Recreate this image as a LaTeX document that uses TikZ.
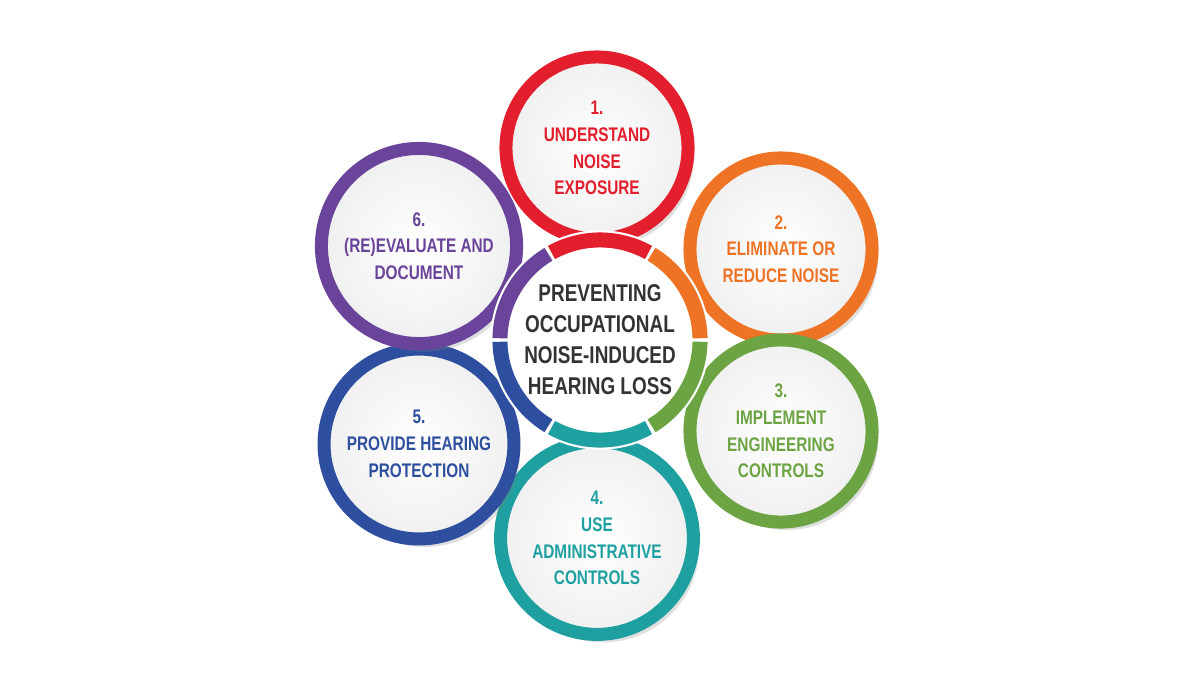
\documentclass[tikz,border=0pt]{standalone}
\usepackage{fontspec}
\setmainfont{Liberation Sans}[FakeStretch=0.78]
\usetikzlibrary{positioning,shadows}
\definecolor{cred}{HTML}{E31E2D}
\definecolor{corange}{HTML}{EE7325}
\definecolor{cgreen}{HTML}{6DA443}
\definecolor{cteal}{HTML}{1FA0A0}
\definecolor{cblue}{HTML}{2E4F9F}
\definecolor{cpurple}{HTML}{6A449A}
\definecolor{ctext}{HTML}{333333}
\begin{document}
\begin{tikzpicture}[x=0.01cm,y=-0.01cm,
stepcircle/.style={circle, draw=#1, line width=0.13cm, minimum size=1.82cm, inner color=white, outer color=gray!12, drop shadow={opacity=0.25, shadow xshift=0.6mm, shadow yshift=-0.8mm}, text=#1, align=center, font=\fontsize{5.6}{7.6}\selectfont\bfseries},
hubcircle/.style={circle, fill=white, minimum size=1.9cm, text=ctext, align=center, font=\fontsize{6.9}{8.8}\selectfont\bfseries},
hubarc/.style={line width=0.15cm, draw=#1},
]
\useasboundingbox (0,0) rectangle (1200,675);
%Outer steps
\node[stepcircle=cred]    (understand) at (597,148) {1.\\UNDERSTAND\\NOISE\\EXPOSURE};
\node[stepcircle=corange] (eliminate)  at (781,249) {2.\\ELIMINATE OR\\REDUCE NOISE};
\node[stepcircle=cgreen]  (engineer)   at (781,431) {3.\\IMPLEMENT\\ENGINEERING\\CONTROLS};
\node[stepcircle=cteal]   (admin)      at (597,538) {4.\\USE\\ADMINISTRATIVE\\CONTROLS};
\node[stepcircle=cblue]   (protect)    at (419,444) {5.\\PROVIDE HEARING\\PROTECTION};
\node[stepcircle=cpurple] (evaluate)   at (419,246) {6.\\(RE)EVALUATE AND\\DOCUMENT};

%Hub
\node[hubcircle] (hub) at (600,340) {PREVENTING\\OCCUPATIONAL\\NOISE-INDUCED\\HEARING LOSS};
\foreach \col/\ang in {cred/90, corange/30, cgreen/-30, cteal/-90, cblue/-150, cpurple/150}
  \draw[hubarc=\col] (hub.center) ++(\ang-29:1cm) arc[start angle=\ang-29, end angle=\ang+29, radius=1cm];
\end{tikzpicture}
\end{document}
